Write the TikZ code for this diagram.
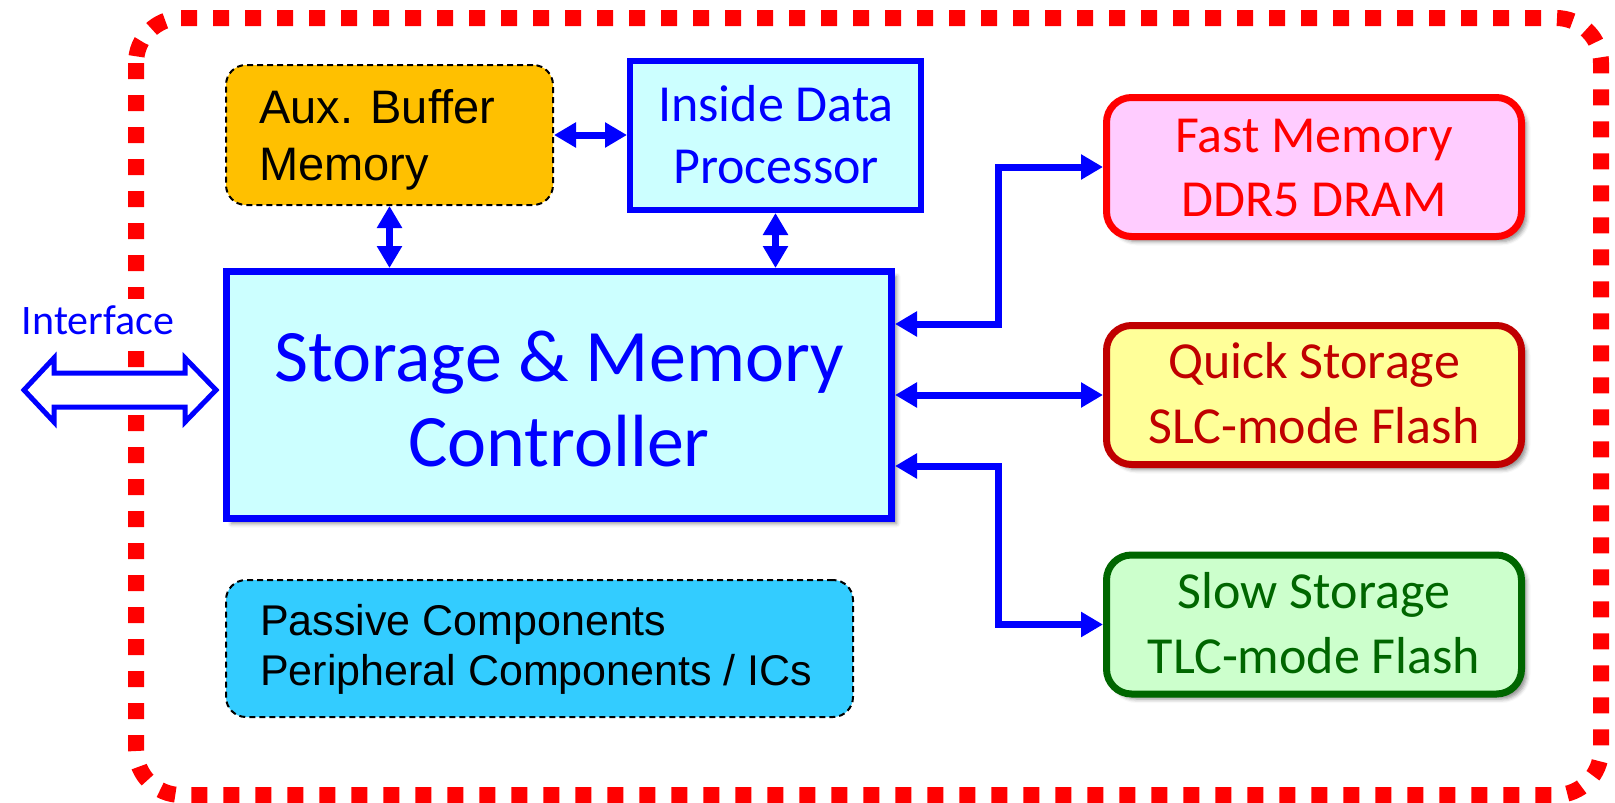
\documentclass[tikz,border=0pt]{standalone}
\usepackage{fontspec}
\setmainfont{Carlito}
\newfontfamily\arialfont{Liberation Sans}
\usetikzlibrary{arrows.meta,shadows.blur}

\definecolor{ctrlfill}{HTML}{CCFFFF}
\definecolor{auxfill}{HTML}{FFC000}
\definecolor{fastfill}{HTML}{FFCCFF}
\definecolor{fastline}{HTML}{FF0000}
\definecolor{quickfill}{HTML}{FFFF99}
\definecolor{quickline}{HTML}{C00000}
\definecolor{slowfill}{HTML}{CCFFCC}
\definecolor{slowline}{HTML}{006600}
\definecolor{passfill}{HTML}{33CCFF}
\definecolor{rimred}{HTML}{FF0000}
\definecolor{linkblue}{HTML}{0000FF}

\newcommand\setfs[1]{\fontsize{#1}{#1}\selectfont}

\begin{document}
\begin{tikzpicture}[x=1pt,y=-1pt,
  softshadow/.style={blur shadow={shadow xshift=5pt,shadow yshift=-5pt,shadow blur radius=4pt,shadow opacity=45}},
  ctrlbox/.style={draw=linkblue,fill=ctrlfill,line width=7pt,inner sep=0pt,softshadow},
  procbox/.style={draw=linkblue,fill=ctrlfill,line width=6pt,inner sep=0pt},
  dashbox/.style={draw=black,line width=2pt,dash pattern=on 6pt off 4pt,rounded corners=20pt,inner sep=0pt},
  membox/.style={line width=7pt,rounded corners=25pt,inner sep=0pt,minimum width=415pt,minimum height=139pt,softshadow},
  lbl/.style={anchor=base,inner sep=0pt},
  lbll/.style={anchor=base west,inner sep=0pt},
  link/.style={draw=linkblue,line width=7pt,>={Triangle[length=22pt,width=24pt]},<->},
  ifarrow/.style={draw=linkblue,fill=white,line width=5pt,line join=miter}
]
\useasboundingbox (0,0) rectangle (1615,803);

% dotted enclosure
\draw[rimred,line width=16pt,dash pattern=on 16pt off 16pt,rounded corners=45pt]
  (136,18) rectangle (1601,795);

% blocks
\node[dashbox,fill=auxfill,minimum width=327pt,minimum height=140pt] (aux) at (389.5,135) {};
\node[procbox,minimum width=291pt,minimum height=149pt] (idp) at (775.5,135.5) {};
\node[ctrlbox,minimum width=665pt,minimum height=247pt] (main) at (559,395) {};
\node[dashbox,fill=passfill,minimum width=627pt,minimum height=137pt] (pass) at (539.5,648.5) {};
\node[membox,draw=fastline,fill=fastfill] (fast) at (1314,167) {};
\node[membox,draw=quickline,fill=quickfill] (quick) at (1314,395) {};
\node[membox,draw=slowline,fill=slowfill] (slow) at (1314,624.5) {};

% labels
\node[lbll,font=\arialfont\setfs{47}] (auxA) at (259,123) {Aux. Buffer};
\node[lbll,font=\arialfont\setfs{47}] (auxB) at (259,180) {Memory};
\node[lbl,text=linkblue,font=\setfs{52}] (idpA) at (776,121) {Inside Data};
\node[lbl,text=linkblue,font=\setfs{52}] (idpB) at (776,183) {Processor};
\node[lbl,text=linkblue,font=\setfs{74}] (mainA) at (559,381) {Storage \& Memory};
\node[lbl,text=linkblue,font=\setfs{74}] (mainB) at (559,466) {Controller};
\node[lbll,font=\arialfont\setfs{43}] (passA) at (260,635) {Passive Components};
\node[lbll,font=\arialfont\setfs{43}] (passB) at (260,685) {Peripheral Components / ICs};
\node[lbl,text=fastline,font=\setfs{52}] (fastA) at (1314,152) {Fast Memory};
\node[lbl,text=fastline,font=\setfs{52}] (fastB) at (1314,216) {DDR5 DRAM};
\node[lbl,text=quickline,font=\setfs{52}] (quickA) at (1314,378) {Quick Storage};
\node[lbl,text=quickline,font=\setfs{52}] (quickB) at (1314,443) {SLC-mode Flash};
\node[lbl,text=slowline,font=\setfs{52}] (slowA) at (1314,608) {Slow Storage};
\node[lbl,text=slowline,font=\setfs{52}] (slowB) at (1314,673) {TLC-mode Flash};
\node[lbl,text=linkblue,font=\setfs{42},fill=white,inner sep=6pt] (iface) at (98,334) {Interface};

% host interface
\draw[ifarrow] (24,390) -- (54,358) -- (54,373) -- (185,373) -- (185,358) -- (216,390)
  -- (185,422) -- (185,407) -- (54,407) -- (54,422) -- cycle;

% links
\coordinate (bendA) at (998,324);
\coordinate (bendC) at (998,466);
\draw[link] (aux.east) -- (aux.east -| idp.west);
\draw[link] (aux.south) -- (aux.south |- main.north);
\draw[link] (idp.south) -- (idp.south |- main.north);
\draw[link] (main.east |- bendA) -- (bendA) |- (fast.west);
\draw[link] (main.east) -- (quick.west);
\draw[link] (main.east |- bendC) -- (bendC) |- (slow.west);
\end{tikzpicture}
\end{document}
